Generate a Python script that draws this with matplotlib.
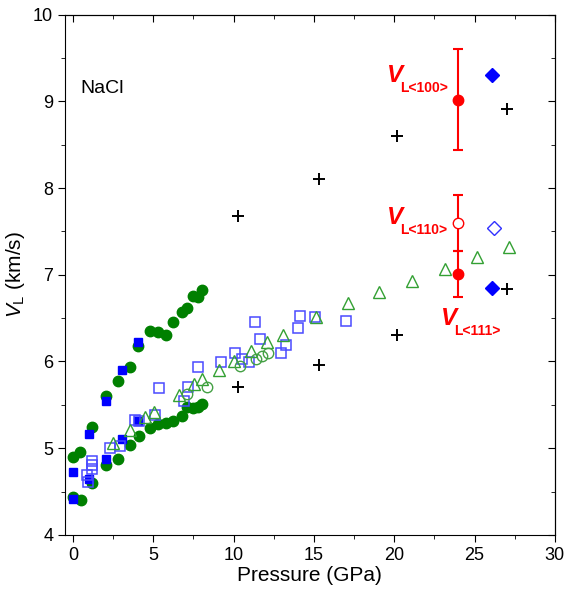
import numpy as np
import matplotlib.pyplot as plt
from matplotlib.ticker import MultipleLocator

plt.rcParams['font.family'] = ['Liberation Sans', 'DejaVu Sans']
plt.rcParams['mathtext.fontset'] = 'custom'
plt.rcParams['mathtext.rm'] = 'Liberation Sans'
plt.rcParams['mathtext.it'] = 'Liberation Sans:italic'

# green filled circles (two branches)
gc_p = [0.02, 0.44, 1.2, 2.04, 2.83, 3.56, 4.04, 4.77, 5.29, 5.77, 6.23, 6.77, 7.12, 7.48, 7.79, 8.04,
        0.02, 0.48, 1.2, 2.04, 2.83, 3.56, 4.08, 4.77, 5.29, 5.77, 6.23, 6.77, 7.12, 7.48, 7.79, 8.04]
gc_v = [4.90, 4.96, 5.25, 5.60, 5.78, 5.94, 6.18, 6.35, 6.34, 6.31, 6.45, 6.57, 6.62, 6.76, 6.74, 6.83,
        4.44, 4.40, 4.60, 4.81, 4.88, 5.04, 5.14, 5.23, 5.28, 5.29, 5.31, 5.37, 5.47, 5.46, 5.47, 5.51]

# blue filled squares
bs_p = [0.0, 0.0, 1.0, 1.0, 2.04, 2.04, 3.04, 3.04, 4.04, 4.04]
bs_v = [4.41, 4.73, 4.65, 5.16, 4.88, 5.55, 5.11, 5.90, 5.31, 6.22]

# blue open squares
bo_p = [0.85, 0.96, 1.2, 1.2, 1.2, 2.3, 2.9, 3.87, 4.1, 5.12, 5.33, 6.9, 7.14, 7.81, 9.23,
        10.1, 10.5, 10.96, 11.33, 11.65, 12.98, 13.25, 14.0, 14.14, 15.08, 17.0]
bo_v = [4.69, 4.61, 4.85, 4.81, 4.76, 5.00, 5.02, 5.33, 5.31, 5.38, 5.69, 5.55, 5.71, 5.94, 5.99,
        6.10, 6.03, 5.99, 6.46, 6.26, 6.10, 6.19, 6.39, 6.52, 6.51, 6.47]

# green open triangles
gt_p = [2.52, 3.56, 4.5, 5.02, 6.58, 7.56, 8.04, 9.08, 10.02, 11.06, 12.06, 13.1, 15.1, 17.1,
        19.08, 21.1, 23.15, 25.15, 27.14]
gt_v = [5.06, 5.21, 5.36, 5.42, 5.61, 5.74, 5.80, 5.90, 6.01, 6.12, 6.22, 6.31, 6.51, 6.67,
        6.80, 6.93, 7.07, 7.20, 7.32]

# green open circles
go_p = [7.1, 8.35, 10.4, 11.4, 11.75, 12.14]
go_v = [5.63, 5.71, 5.95, 6.03, 6.06, 6.10]

# black crosses
pl_p = [10.3, 10.3, 15.3, 15.3, 20.2, 20.2, 27.0, 27.0]
pl_v = [7.68, 5.70, 8.11, 5.96, 8.60, 6.30, 8.91, 6.84]

# blue diamonds
bd_p = [26.1, 26.1]
bd_v = [9.31, 6.85]
bdo_p = [26.2]
bdo_v = [7.54]

# red points with error bars
r_p = [24.0, 24.0]
r_v = [9.02, 7.01]
r_err = [0.58, 0.27]
ro_p = [24.0]
ro_v = [7.60]
ro_err = [0.32]

fig = plt.figure(figsize=(5.65, 5.91), dpi=100)
ax = fig.add_axes([0.115, 0.095, 0.867, 0.880])

ax.plot(gc_p, gc_v, 'o', color='#008000', ms=7.5, mec='#008000')
ax.plot(bs_p, bs_v, 's', color='#0000ff', ms=6.2)
ax.plot(bo_p, bo_v, 's', mfc='none', mec='#4a4aff', mew=1.1, ms=7)
ax.plot(gt_p, gt_v, '^', mfc='none', mec='#33a033', mew=1.0, ms=8)
ax.plot(go_p, go_v, 'o', mfc='none', mec='#44a044', mew=1.0, ms=7.5)
ax.plot(pl_p, pl_v, '+', color='black', ms=9, mew=1.4)
ax.plot(bd_p, bd_v, 'D', color='#0000ff', ms=7)
ax.plot(bdo_p, bdo_v, 'D', mfc='none', mec='#3030ff', mew=1.0, ms=7)
ax.errorbar(r_p, r_v, yerr=r_err, fmt='o', color='#ff0000', ms=7.5, capsize=3.5, elinewidth=1.5, capthick=1.5)
ax.errorbar(ro_p, ro_v, yerr=ro_err, fmt='o', mfc='white', mec='#ff0000', ecolor='#ff0000',
            ms=7.5, capsize=3.5, elinewidth=1.5, capthick=1.5, zorder=1)

ax.set_xlim(-0.5, 30)
ax.set_ylim(4, 10)
ax.xaxis.set_major_locator(MultipleLocator(5))
ax.xaxis.set_minor_locator(MultipleLocator(2.5))
ax.yaxis.set_major_locator(MultipleLocator(1))
ax.yaxis.set_minor_locator(MultipleLocator(0.5))
ax.tick_params(which='major', direction='out', length=5, labelsize=13)
ax.tick_params(which='minor', direction='out', length=3)

top = ax.secondary_xaxis('top')
top.xaxis.set_major_locator(MultipleLocator(5))
top.xaxis.set_minor_locator(MultipleLocator(2.5))
top.tick_params(which='both', direction='in', labeltop=False)
top.tick_params(which='major', length=5)
top.tick_params(which='minor', length=3)
right = ax.secondary_yaxis('right')
right.yaxis.set_major_locator(MultipleLocator(1))
right.yaxis.set_minor_locator(MultipleLocator(0.5))
right.tick_params(which='both', direction='in', labelright=False)
right.tick_params(which='major', length=5)
right.tick_params(which='minor', length=3)

ax.set_xlabel('Pressure (GPa)', fontsize=15, labelpad=2)
ax.set_ylabel(r'$V_{\mathrm{L}}$ (km/s)', fontsize=15, labelpad=4)

ax.text(0.45, 9.15, 'NaCl', fontsize=14, va='center', ha='left')

# label positions: (V x, V y, subscript y, subscript)
red_labels = [(19.55, 9.30, 9.16, '<100>'), (19.55, 7.66, 7.52, '<110>'), (22.9, 6.50, 6.35, '<111>')]
for xx, yy, ys, sub in red_labels:
    ax.text(xx, yy, 'V', color='#ff0000', fontsize=17.5, fontweight='bold', style='italic',
            ha='left', va='center')
    ax.text(xx + 0.8, ys, 'L' + sub, color='#ff0000', fontsize=10, fontweight='bold',
            ha='left', va='center')

fig.savefig('out.png', dpi=100)
